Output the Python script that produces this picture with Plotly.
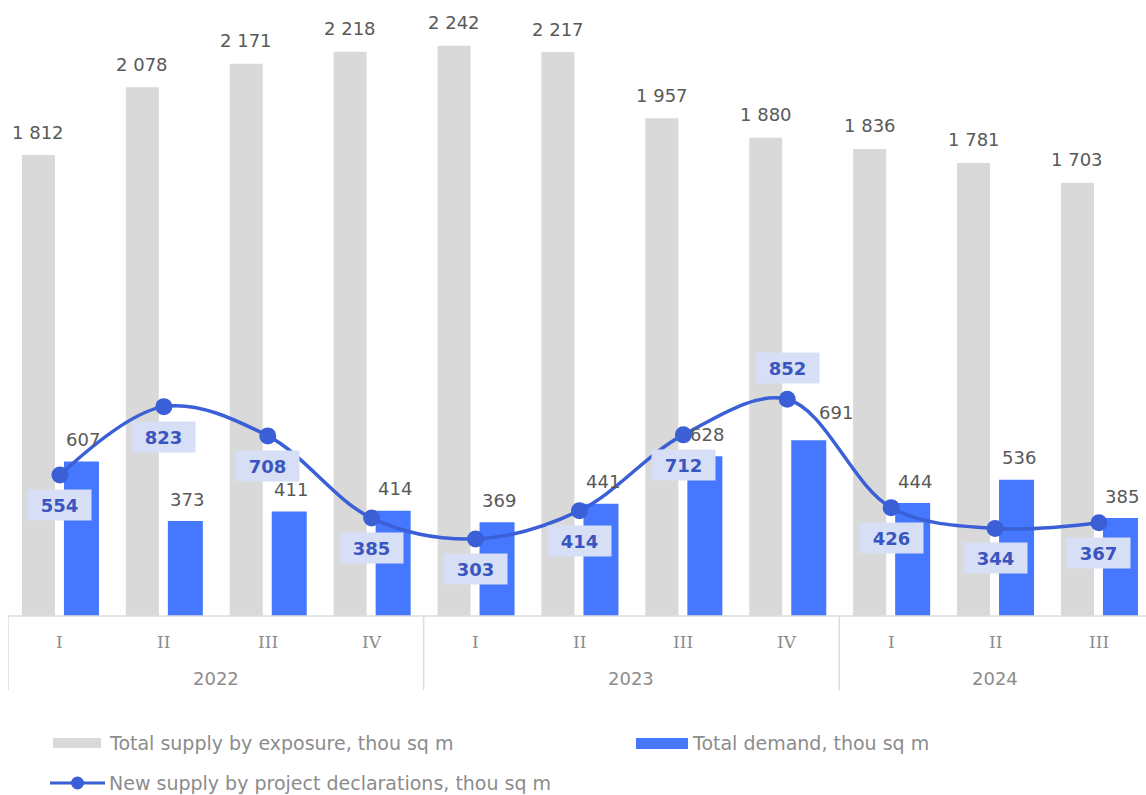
import plotly.graph_objects as go

# ---------------- data ----------------
quarters = ["I", "II", "III", "IV", "I", "II", "III", "IV", "I", "II", "III"]
years = ["2022", "2023", "2024"]
year_sizes = [4, 4, 3]
total_supply = [1812, 2078, 2171, 2218, 2242, 2217, 1957, 1880, 1836, 1781, 1703]
total_demand = [607, 373, 411, 414, 369, 441, 628, 691, 444, 536, 385]
new_supply = [554, 823, 708, 385, 303, 414, 712, 852, 426, 344, 367]

name_supply = "Total supply by exposure, thou sq m"
name_demand = "Total demand, thou sq m"
name_new = "New supply by project declarations, thou sq m"

# label shifts (px) – style only
demand_label_shift = {7: (27, 28)}          # index: (dx, dy)
new_label_above = {7}

# ---------------- style ----------------
W, H = 1146, 795
PL, PT, PW, PH = 8, 0, 1138, 616
GRAY = "#d9d9d9"
BLUE = "#4677ff"
LINE = "#3a5fd6"
BOXBG = "#d6dff5"
BOXTXT = "#3a55c0"
VAL = "#595959"
AX = "#8c8c8c"
FONT = "DejaVu Sans"

cat_px = 103.9
x_lo = -0.5
x_hi = x_lo + PW / cat_px
y_hi = PH / 0.2544

xs = list(range(len(quarters)))


def xp(px):
    return (px - PL) / PW


def yp(py):
    return (PT + PH - py) / PH


fig = go.Figure()
fig.add_trace(go.Bar(x=xs, y=total_supply, name=name_supply, marker_color=GRAY,
                     marker_line_width=0, offset=-0.366, width=0.318, showlegend=False))
fig.add_trace(go.Bar(x=xs, y=total_demand, name=name_demand, marker_color=BLUE,
                     marker_line_width=0, offset=0.0385, width=0.337, showlegend=False))
fig.add_trace(go.Scatter(x=xs, y=new_supply, name=name_new, mode="lines+markers",
                         line=dict(color=LINE, width=3.5, shape="spline", smoothing=1),
                         marker=dict(color=LINE, size=17), showlegend=False))

ann = []
shapes = []
g_off = -0.366 + 0.318 / 2
b_off = 0.0385 + 0.337 / 2
for i in xs:
    ann.append(dict(x=i + g_off, y=total_supply[i], xref="x", yref="y", text=f"{total_supply[i]:,}".replace(",", " "),
                    showarrow=False, yshift=23, xanchor="center", yanchor="middle",
                    font=dict(family=FONT, size=18, color=VAL)))
    dx, dy = demand_label_shift.get(i, (2, 22))
    ann.append(dict(x=i + b_off, y=total_demand[i], xref="x", yref="y", text=str(total_demand[i]),
                    showarrow=False, yshift=dy, xshift=dx, xanchor="center", yanchor="middle",
                    font=dict(family=FONT, size=18, color=VAL)))
    ys = 31 if i in new_label_above else -30
    ann.append(dict(x=i, y=new_supply[i], xref="x", yref="y", text=f"<b>{new_supply[i]}</b>",
                    showarrow=False, yshift=ys, xanchor="center", yanchor="middle",
                    width=63, height=30, borderpad=0, bgcolor=BOXBG,
                    font=dict(family=FONT, size=18, color=BOXTXT)))
    ann.append(dict(x=i, y=yp(642), xref="x", yref="paper", text=quarters[i], showarrow=False,
                    xanchor="center", yanchor="middle",
                    font=dict(family="DejaVu Serif", size=17, color=AX)))

# year row and separators
start = 0
seps = [x_lo]
for yname, n in zip(years, year_sizes):
    center = start + (n - 1) / 2
    ann.append(dict(x=center, y=yp(678), xref="x", yref="paper", text=yname, showarrow=False,
                    xanchor="center", yanchor="middle",
                    font=dict(family=FONT, size=18, color=AX)))
    start += n
    seps.append(start - 0.5)

shapes.append(dict(type="line", xref="paper", yref="paper", x0=0, x1=1, y0=yp(616), y1=yp(616),
                   line=dict(color="#dcdcdc", width=1.5)))
for s in seps:
    shapes.append(dict(type="line", xref="x", yref="paper", x0=s, x1=s, y0=yp(616), y1=yp(690),
                       line=dict(color="#dcdcdc", width=1.5)))

# legend (manual)
shapes.append(dict(type="rect", xref="paper", yref="paper", x0=xp(53), x1=xp(101), y0=yp(748), y1=yp(738),
                   fillcolor=GRAY, line_width=0))
shapes.append(dict(type="rect", xref="paper", yref="paper", x0=xp(636), x1=xp(688), y0=yp(749), y1=yp(738),
                   fillcolor=BLUE, line_width=0))
shapes.append(dict(type="line", xref="paper", yref="paper", x0=xp(50), x1=xp(105), y0=yp(783), y1=yp(783),
                   line=dict(color=LINE, width=3)))
shapes.append(dict(type="circle", xref="paper", yref="paper", x0=xp(71), x1=xp(84), y0=yp(789.5), y1=yp(776.5),
                   fillcolor=LINE, line_width=0))
for txt, px, py in [(name_supply, 107, 743), (name_demand, 690, 743), (name_new, 107, 783)]:
    ann.append(dict(x=xp(px), y=yp(py), xref="paper", yref="paper", text=txt, showarrow=False,
                    xanchor="left", yanchor="middle", font=dict(family=FONT, size=19, color=AX)))

fig.update_layout(
    width=W, height=H,
    margin=dict(l=PL, r=W - PL - PW, t=PT, b=H - PT - PH, pad=0),
    paper_bgcolor="white", plot_bgcolor="white",
    barmode="overlay",
    xaxis=dict(range=[x_lo, x_hi], visible=False),
    yaxis=dict(range=[0, y_hi], visible=False),
    annotations=ann, shapes=shapes,
    showlegend=False,
)

fig.write_html("out.html")
